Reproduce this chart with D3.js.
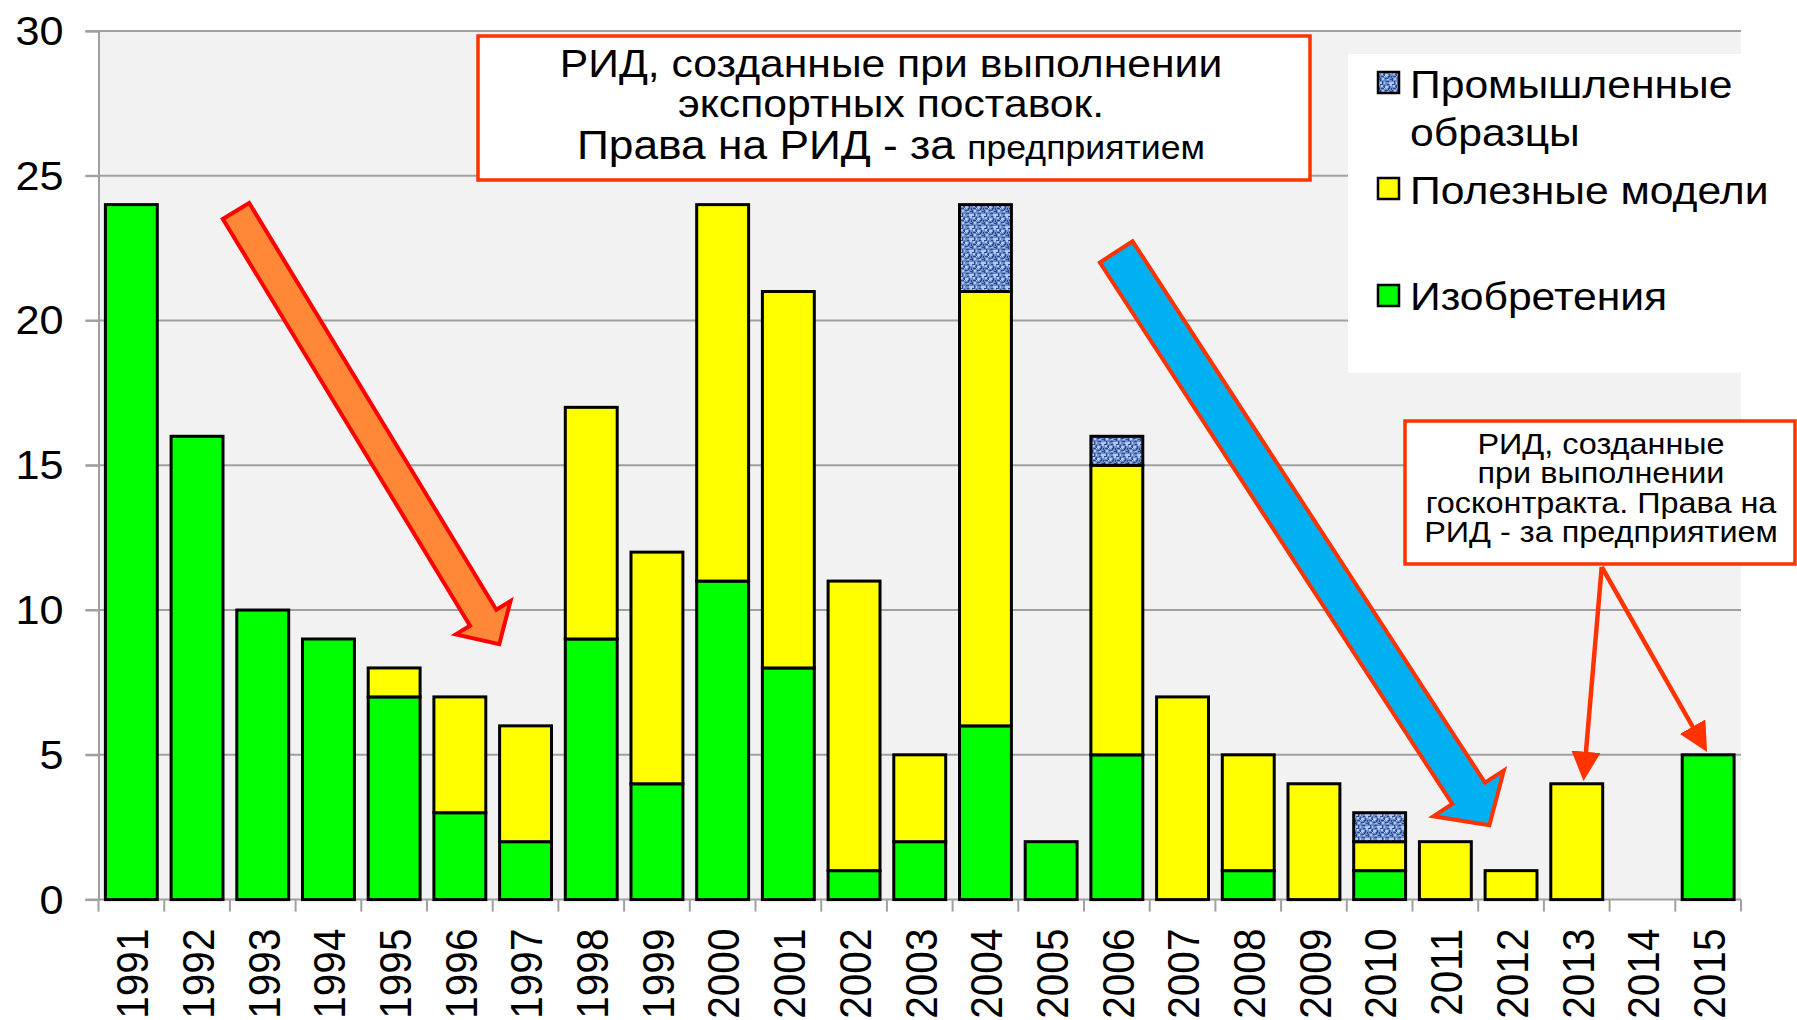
<!DOCTYPE html>
<html><head><meta charset="utf-8">
<script src="https://cdn.jsdelivr.net/npm/d3@7"></script>
<style>
html,body{margin:0;padding:0;background:#fff;}
svg text{font-family:"Liberation Sans",Arial,sans-serif;fill:#000;}
</style></head>
<body>
<svg id="chart" width="1797" height="1020"></svg>
<script>
// ---------- data ----------
const years = ["1991","1992","1993","1994","1995","1996","1997","1998","1999","2000","2001","2002","2003","2004","2005","2006","2007","2008","2009","2010","2011","2012","2013","2014","2015"];
const inventions        = [24,16,10,9,7,3,2,9,4,11,8,1,2,6,2,5,0,1,0,1,0,0,0,0,5];
const utilityModels     = [0,0,0,0,1,4,4,8,8,13,13,10,3,15,0,10,7,4,4,1,2,1,4,0,0];
const industrialDesigns = [0,0,0,0,0,0,0,0,0,0,0,0,0,3,0,1,0,0,0,1,0,0,0,0,0];
const yTicks = [0,5,10,15,20,25,30];
const seriesKeys   = ["inv","util","ind"];
const seriesLabels = {ind:["Промышленные","образцы"], util:["Полезные модели"], inv:["Изобретения"]};
const topNoteLines = ["РИД, созданные при выполнении","экспортных поставок."];
const topNoteLast  = ["Права на РИД - за ","предприятием"];
const sideNoteLines = ["РИД, созданные","при выполнении","госконтракта. Права на","РИД - за предприятием"];

// ---------- layout ----------
const svg = d3.select("#chart");
const SX = 1.08; // horizontal text stretch seen in the reference
const X0 = 98.5, X1 = 1741, Y0 = 899.6, Y30 = 30.9;
const x = d3.scaleBand().domain(years).range([X0, X1]).paddingInner(0.21).paddingOuter(0.105);
const xi = d3.scaleLinear().domain([0, years.length]).range([X0, X1]); // continuous index scale for annotations
const y = d3.scaleLinear().domain([0, 30]).range([Y0, Y30]);
const colors = {inv:"#00ff00", util:"#ffff00"};

function txt(parent, px, py, anchor, size, str, extra){
  return parent.append("text")
    .attr("transform",`translate(${px},${py}) scale(${SX},1)${extra||""}`)
    .attr("text-anchor",anchor).attr("font-size",size).text(str);
}

// pattern for industrial designs
const defs = svg.append("defs");
const pat = defs.append("pattern").attr("id","indPat").attr("patternUnits","userSpaceOnUse")
  .attr("width",12).attr("height",12);
pat.append("rect").attr("width",12).attr("height",12).attr("fill","#6d8ccb");
const darkCells = [[0,0,3,1],[4,1,1,3],[7,0,2,1],[9,2,1,3],[1,4,3,1],[0,6,1,3],[5,6,3,1],[10,7,2,1],[2,9,1,3],[6,9,3,1],[8,4,1,2],[3,2,1,1],[11,4,1,2]];
const lightCells = [[1,1,2,2],[5,2,3,2],[10,0,2,2],[2,6,2,2],[7,7,2,1],[0,10,2,2],[9,10,3,2],[4,10,1,2],[6,4,1,1],[4,4,1,1]];
pat.selectAll("rect.d").data(darkCells).join("rect").attr("class","d")
  .attr("x",d=>d[0]).attr("y",d=>d[1]).attr("width",d=>d[2]).attr("height",d=>d[3]).attr("fill","#2a4a8c");
pat.selectAll("rect.l").data(lightCells).join("rect").attr("class","l")
  .attr("x",d=>d[0]).attr("y",d=>d[1]).attr("width",d=>d[2]).attr("height",d=>d[3]).attr("fill","#b3c9f2");
colors.ind = "url(#indPat)";

// plot background
svg.append("rect").attr("x",X0).attr("y",Y30).attr("width",X1-X0).attr("height",Y0-Y30).attr("fill","#f2f2f2");

// gridlines
svg.append("g").selectAll("line").data(yTicks.filter(d=>d>0)).join("line")
  .attr("x1",X0-13).attr("x2",X1).attr("y1",d=>y(d)).attr("y2",d=>y(d))
  .attr("stroke","#a0a0a0").attr("stroke-width",2);

// y axis
const yAxis = svg.append("g").attr("transform",`translate(${X0},0)`)
  .call(d3.axisLeft(y).tickValues(yTicks).tickSize(13).tickFormat(""));
yAxis.select(".domain").attr("stroke","#a0a0a0").attr("stroke-width",2);
yAxis.selectAll(".tick line").attr("stroke","#a0a0a0").attr("stroke-width",2);
const yl = svg.append("g");
yTicks.forEach(v=>txt(yl, X0-35, y(v), "end", 40, d3.format("d")(v)).attr("dy","0.35em"));

// x axis: line + ticks between categories
const gx = svg.append("g");
gx.append("line").attr("x1",X0-13).attr("x2",X1).attr("y1",Y0).attr("y2",Y0).attr("stroke","#a0a0a0").attr("stroke-width",2);
gx.selectAll("line.t").data(d3.range(years.length+1)).join("line").attr("class","t")
  .attr("x1",d=>xi(d)).attr("x2",d=>xi(d)).attr("y1",Y0).attr("y2",Y0+12)
  .attr("stroke","#a0a0a0").attr("stroke-width",2);
years.forEach(yr=>txt(gx, x(yr)+x.bandwidth()/2+1, Y0+29, "end", 40.5, yr, " rotate(-90)").attr("dy","0.36em"));

// stacked bars
const table = years.map((yr,i)=>({year:yr, inv:inventions[i], util:utilityModels[i], ind:industrialDesigns[i]}));
const stack = d3.stack().keys(seriesKeys)(table);
svg.append("g").selectAll("g").data(stack).join("g")
  .attr("fill",s=>colors[s.key])
  .selectAll("rect").data(s=>s.filter(d=>d[1]-d[0]>0)).join("rect")
  .attr("x",d=>x(d.data.year)).attr("width",x.bandwidth())
  .attr("y",d=>y(d[1])).attr("height",d=>y(d[0])-y(d[1]))
  .attr("stroke","#000").attr("stroke-width",3);

// ---------- annotations ----------
function blockArrow(t, h, shaftHalf, headHalf, headLen, fill, stroke){
  const x1=xi(t[0]), y1=y(t[1]), x2=xi(h[0]), y2=y(h[1]);
  const L=Math.hypot(x2-x1,y2-y1), ux=(x2-x1)/L, uy=(y2-y1)/L, px=-uy, py=ux;
  const bx=x2-ux*headLen, by=y2-uy*headLen;
  const pts=[[x1+px*shaftHalf,y1+py*shaftHalf],[bx+px*shaftHalf,by+py*shaftHalf],[bx+px*headHalf,by+py*headHalf],[x2,y2],
             [bx-px*headHalf,by-py*headHalf],[bx-px*shaftHalf,by-py*shaftHalf],[x1-px*shaftHalf,y1-py*shaftHalf]];
  svg.append("polygon").attr("points",pts.map(p=>p.join(",")).join(" "))
    .attr("fill",fill).attr("stroke",stroke).attr("stroke-width",4).attr("stroke-linejoin","miter");
}
blockArrow([2.093,23.78],[6.10,8.82],15.4,32,31,"#ff8838","#ff0000");
blockArrow([15.49,22.37],[21.17,2.57],19.5,42,38,"#00b0f0","#ff3300");

// legend
const lg = svg.append("g");
lg.append("rect").attr("x",1348).attr("y",54).attr("width",X1-1348).attr("height",319).attr("fill","#fff");
const legendItems = [{k:"ind",sy:72,base:[98,146]},{k:"util",sy:178,base:[204]},{k:"inv",sy:285,base:[310]}];
legendItems.forEach(it=>{
  lg.append("rect").attr("x",1378).attr("y",it.sy).attr("width",21).attr("height",21)
    .attr("fill",colors[it.k]).attr("stroke","#000").attr("stroke-width",2.5);
  const t = txt(lg, 1410, it.base[0], "start", 39.5, "");
  seriesLabels[it.k].forEach((s,j)=>t.append("tspan").attr("x",0).attr("dy",j?it.base[j]-it.base[j-1]:0).text(s));
});

// top note
svg.append("rect").attr("x",478).attr("y",36).attr("width",832).attr("height",144)
  .attr("fill","#fff").attr("stroke","#ff3300").attr("stroke-width",3.5);
topNoteLines.forEach((t,i)=>txt(svg, 891, [77,117][i], "middle", 39.5, t));
const t3 = txt(svg, 891, 159, "middle", 41, "");
t3.append("tspan").attr("font-size",41).text(topNoteLast[0]);
t3.append("tspan").attr("font-size",33).text(topNoteLast[1]);

// side note arrows
const ar = svg.append("g");
defs.append("marker").attr("id","ah").attr("viewBox","0 0 10 10").attr("refX",8).attr("refY",5)
  .attr("markerWidth",6.5).attr("markerHeight",6.5).attr("orient","auto").attr("markerUnits","strokeWidth")
  .append("path").attr("d","M0,0 L10,5 L0,10 Z").attr("fill","#ff3300");
const sideStart=[22.88,11.49];
[[22.61,4.3],[24.44,5.27]].forEach(p=>{
  ar.append("line").attr("x1",xi(sideStart[0])).attr("y1",y(sideStart[1])).attr("x2",xi(p[0])).attr("y2",y(p[1]))
    .attr("stroke","#ff3300").attr("stroke-width",4.5).attr("marker-end","url(#ah)");
});

// side note box (one multi-line text block)
svg.append("rect").attr("x",1405).attr("y",421).attr("width",390).attr("height",143)
  .attr("fill","#fff").attr("stroke","#ff3300").attr("stroke-width",3.5);
const sn = txt(svg, 1601, 454, "middle", 30, "");
sideNoteLines.forEach((s,i)=>sn.append("tspan").attr("x",0).attr("dy",i?29.3:0).text(s));
</script>
</body></html>
